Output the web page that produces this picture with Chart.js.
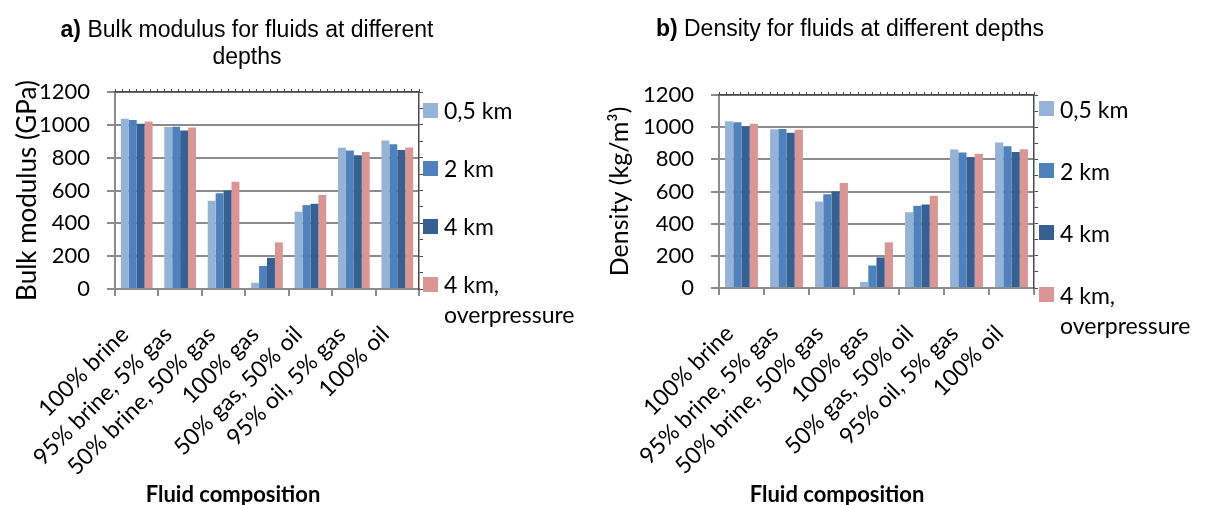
<!DOCTYPE html>
<html>
<head>
<meta charset="utf-8">
<script src="https://cdn.jsdelivr.net/npm/chart.js@4.4.1/dist/chart.umd.min.js"></script>
<style>
  html, body { margin: 0; padding: 0; background: #fff; }
  #page { position: relative; width: 1211px; height: 505px; overflow: hidden; font-family: Lato, "Noto Sans", sans-serif; color: #000; }
  canvas { position: absolute; top: 0; }
  .title { position: absolute; font-family: "Liberation Sans", Arial, sans-serif; font-size: 23px; line-height: 27px; text-align: center; white-space: nowrap; transform: translateX(-50%); }
  .swatch { position: absolute; width: 15px; height: 15px; }
  .ltext { position: absolute; font-size: 23px; line-height: 30px; white-space: nowrap; }
  .xtitle { position: absolute; font-size: 22px; font-weight: bold; white-space: nowrap; transform: translate(-50%, -50%); }
</style>
</head>
<body>
<div id="page"></div>
<script>
// Fluid compositions along the x axis
const categories = [
  '100% brine',
  '95% brine, 5% gas',
  '50% brine, 50% gas',
  '100% gas',
  '50% gas, 50% oil',
  '95% oil, 5% gas',
  '100% oil'
];

// Series names (depth cases)
const seriesNames = ['0,5 km', '2 km', '4 km', ['4 km,', 'overpressure']];

// Values per depth case; both panels plot the same figures
const depth05 = [1037, 987, 538, 38, 471, 861, 904];
const depth2 = [1030, 988, 583, 140, 511, 843, 881];
const depth4 = [1006, 966, 600, 190, 519, 814, 846];
const depth4Over = [1021, 984, 653, 284, 573, 834, 862];

// Value axis ticks
const yTicks = [0, 200, 400, 600, 800, 1000, 1200];

const seriesValues = [depth05, depth2, depth4, depth4Over];
const seriesColors = ['#95B3D7', '#4F81BD', '#375F92', '#DA9694'];

const H = 505;
const AXIS = '#8c8c8c';
const FRAME = '#4a4a4a';
Chart.defaults.font.family = 'Lato, "Noto Sans", sans-serif';
Chart.defaults.color = '#000';

const page = document.getElementById('page');

function addEl(cls, left, top, html, extra) {
  const d = document.createElement('div');
  d.className = cls;
  d.style.left = left + 'px';
  d.style.top = top + 'px';
  if (html !== null) d.innerHTML = html;
  if (extra) Object.assign(d.style, extra);
  page.appendChild(d);
  return d;
}

function buildPanel(p) {
  const canvas = document.createElement('canvas');
  canvas.width = p.width;
  canvas.height = H;
  canvas.style.left = p.left + 'px';
  canvas.style.width = p.width + 'px';
  canvas.style.height = H + 'px';
  page.appendChild(canvas);

  new Chart(canvas, {
    type: 'bar',
    data: {
      labels: categories,
      datasets: seriesValues.map((vals, i) => ({
        label: Array.isArray(seriesNames[i]) ? seriesNames[i].join(' ') : seriesNames[i],
        data: vals,
        backgroundColor: seriesColors[i],
        borderWidth: 0,
        categoryPercentage: 0.73,
        barPercentage: 1.0
      }))
    },
    options: {
      responsive: false,
      animation: false,
      devicePixelRatio: 1,
      layout: { padding: { top: p.area.top, right: p.width - p.area.right, left: 0, bottom: 0 } },
      plugins: { legend: { display: false }, title: { display: false }, tooltip: { enabled: false } },
      scales: {
        x: {
          position: 'bottom',
          offset: true,
          grid: { offset: true, drawOnChartArea: false, drawTicks: true, tickLength: 7, color: AXIS, lineWidth: 2 },
          border: { color: AXIS, width: 2 },
          ticks: { autoSkip: false, minRotation: 45, maxRotation: 45, font: { size: 23 }, color: '#000', padding: 25, labelOffset: -12 },
          afterFit: s => { s.height = H - p.area.bottom; }
        },
        y: {
          position: 'left',
          min: yTicks[0],
          max: yTicks[yTicks.length - 1],
          afterBuildTicks: s => { s.ticks = yTicks.map(v => ({ value: v })); },
          grid: { color: AXIS, lineWidth: 2, drawTicks: true, tickLength: 8 },
          border: { color: AXIS, width: 2 },
          ticks: { font: { size: 22 }, color: '#000', padding: 17, callback: v => String(v) },
          title: {
            display: true,
            text: p.yTitle,
            font: { size: p.yTitleSize },
            color: '#000',
            padding: { top: p.yTitlePad, bottom: 0 }
          },
          afterFit: s => { s.width = p.area.left; }
        },
        xTop: {
          type: 'linear',
          position: 'top',
          min: 0,
          max: 42,
          ticks: { display: false, stepSize: 1 },
          grid: { drawOnChartArea: false, tickLength: 3, color: FRAME, lineWidth: 1 },
          border: { color: FRAME, width: 1.5 },
          afterFit: s => { s.height = 0; }
        },
        yRight: {
          type: 'linear',
          position: 'right',
          min: 0,
          max: 1200,
          ticks: { display: false, stepSize: 100 },
          grid: { drawOnChartArea: false, tickLength: 4, color: FRAME, lineWidth: 1 },
          border: { color: FRAME, width: 1.5 },
          afterFit: s => { s.width = 0; }
        }
      }
    }
  });

  // panel heading
  addEl('title', p.titleX, p.titleTop, p.titleHtml);

  // legend at the right of the plot
  seriesNames.forEach((name, i) => {
    const cy = p.legendY0 + i * p.legendStep;
    addEl('swatch', p.legendX, cy - 7.5, null, { background: seriesColors[i] });
    const txt = Array.isArray(name) ? name.join('<br>') : name;
    addEl('ltext', p.legendX + 21, cy - 15, txt);
  });

  // category axis title
  addEl('xtitle', p.xTitleX, p.xTitleY, 'Fluid composition');
}

buildPanel({
  left: 0, width: 605,
  area: { left: 115, right: 419, top: 92, bottom: 289 },
  yTitle: 'Bulk modulus (GPa)', yTitleSize: 26, yTitlePad: 12,
  titleHtml: '<b>a)</b> Bulk modulus for fluids at different<br>depths',
  titleX: 247, titleTop: 16,
  legendX: 423, legendY0: 110, legendStep: 58,
  xTitleX: 233, xTitleY: 493
});

buildPanel({
  left: 605, width: 606,
  area: { left: 114, right: 429, top: 95, bottom: 288 },
  yTitle: 'Density (kg/m\u00B3)', yTitleSize: 25, yTitlePad: 0,
  titleHtml: '<b>b)</b> Density for fluids at different depths',
  titleX: 850, titleTop: 15,
  legendX: 1039, legendY0: 108.5, legendStep: 62,
  xTitleX: 837, xTitleY: 493
});
</script>
</body>
</html>
